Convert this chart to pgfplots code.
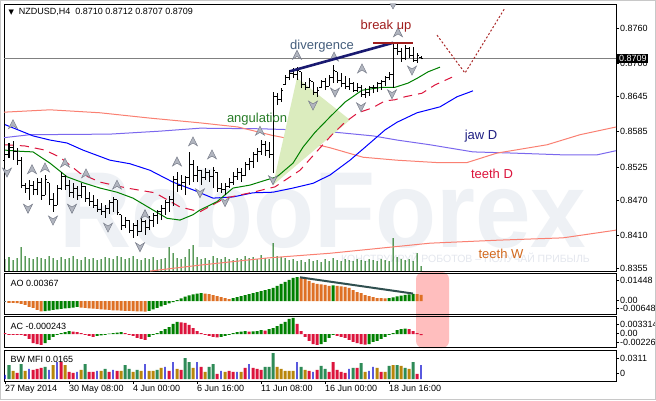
\documentclass[border=0pt]{standalone}
\usepackage{graphicx}
\usepackage{pgfplots}
\pgfplotsset{compat=1.18}
\usepackage{pgfplotstable}
\usepackage{fontspec}
\setmainfont{Liberation Sans}
\newfontfamily\symfont{DejaVu Sans}

\definecolor{aogreen}{RGB}{0,128,0}
\definecolor{aoorange}{RGB}{222,112,36}
\definecolor{aogrey}{RGB}{80,100,100}
\definecolor{acred}{RGB}{220,20,60}
\definecolor{mfigreen}{RGB}{46,139,87}
\definecolor{mfigold}{RGB}{184,134,11}
\definecolor{mfiblue}{RGB}{0,0,205}
\definecolor{volgreen}{RGB}{0,100,0}
\definecolor{lipsgreen}{RGB}{0,128,0}
\definecolor{teethred}{RGB}{220,20,60}
\definecolor{jawblue}{RGB}{0,0,255}
\definecolor{jawD}{RGB}{123,104,238}
\definecolor{salmon}{RGB}{250,128,114}
\definecolor{angfill}{RGB}{219,236,190}
\definecolor{divnavy}{RGB}{25,25,112}
\definecolor{breakred}{RGB}{160,30,30}
\definecolor{fcred}{RGB}{170,40,40}
\definecolor{divtext}{RGB}{70,95,125}
\definecolor{angtext}{RGB}{40,125,40}
\definecolor{jawtext}{RGB}{30,30,130}
\definecolor{teethWtext}{RGB}{210,105,30}
\definecolor{fracfill}{RGB}{178,182,192}
\definecolor{fracdraw}{RGB}{120,125,138}
\definecolor{pinkhl}{RGB}{255,190,190}
\definecolor{wmark}{RGB}{238,241,245}
\definecolor{wmark2}{RGB}{228,231,238}
\definecolor{aoline}{RGB}{47,79,79}
\definecolor{bidgray}{RGB}{128,128,128}
\definecolor{outer}{RGB}{200,200,200}

\pgfdeclareplotmark{ohlcopen}{\pgfpathmoveto{\pgfqpoint{-1.6pt}{0pt}}\pgfpathlineto{\pgfqpoint{0pt}{0pt}}\pgfusepathqstroke}
\pgfdeclareplotmark{ohlcclose}{\pgfpathmoveto{\pgfqpoint{0pt}{0pt}}\pgfpathlineto{\pgfqpoint{1.6pt}{0pt}}\pgfusepathqstroke}
\pgfdeclareplotmark{fup}{\pgfpathmoveto{\pgfqpoint{0pt}{5pt}}\pgfpathlineto{\pgfqpoint{4.5pt}{-4pt}}\pgfpathlineto{\pgfqpoint{0pt}{-1.2pt}}\pgfpathlineto{\pgfqpoint{-4.5pt}{-4pt}}\pgfpathclose\pgfusepathqfillstroke}
\pgfdeclareplotmark{fdown}{\pgfpathmoveto{\pgfqpoint{0pt}{-5pt}}\pgfpathlineto{\pgfqpoint{4.5pt}{4pt}}\pgfpathlineto{\pgfqpoint{0pt}{1.2pt}}\pgfpathlineto{\pgfqpoint{-4.5pt}{4pt}}\pgfpathclose\pgfusepathqfillstroke}

\pgfplotstableread{
i o h l c
0 0.8537 0.8554 0.8529 0.8546
1 0.8546 0.8566 0.8541 0.8558
2 0.8558 0.8569 0.8537 0.8551
3 0.8551 0.8558 0.8529 0.8537
4 0.8537 0.8542 0.8490 0.8495
5 0.8495 0.8499 0.8482 0.8490
6 0.8490 0.8504 0.8470 0.8495
7 0.8495 0.8502 0.8478 0.8487
8 0.8487 0.8507 0.8478 0.8499
9 0.8499 0.8507 0.8470 0.8478
10 0.8478 0.8512 0.8478 0.8504
11 0.8499 0.8499 0.8461 0.8470
12 0.8470 0.8482 0.8450 0.8461
13 0.8461 0.8495 0.8461 0.8490
14 0.8490 0.8517 0.8487 0.8510
15 0.8510 0.8512 0.8487 0.8495
16 0.8495 0.8504 0.8475 0.8483
17 0.8483 0.8499 0.8473 0.8490
18 0.8490 0.8493 0.8470 0.8478
19 0.8478 0.8499 0.8473 0.8493
20 0.8493 0.8493 0.8467 0.8473
21 0.8473 0.8483 0.8460 0.8467
22 0.8467 0.8478 0.8456 0.8461
23 0.8461 0.8472 0.8450 0.8453
24 0.8453 0.8465 0.8445 0.8450
25 0.8450 0.8461 0.8440 0.8456
26 0.8456 0.8470 0.8446 0.8465
27 0.8465 0.8475 0.8450 0.8470
28 0.8470 0.8470 0.8445 0.8448
29 0.8445 0.8445 0.8419 0.8426
30 0.8426 0.8441 0.8423 0.8436
31 0.8436 0.8436 0.8414 0.8419
32 0.8419 0.8431 0.8406 0.8426
33 0.8426 0.8436 0.8409 0.8416
34 0.8416 0.8440 0.8416 0.8433
35 0.8433 0.8436 0.8411 0.8423
36 0.8423 0.8443 0.8419 0.8436
37 0.8436 0.8448 0.8424 0.8443
38 0.8443 0.8453 0.8429 0.8450
39 0.8450 0.8461 0.8436 0.8456
40 0.8456 0.8470 0.8445 0.8465
41 0.8465 0.8477 0.8450 0.8470
42 0.8470 0.8510 0.8460 0.8504
43 0.8504 0.8517 0.8483 0.8495
44 0.8495 0.8512 0.8487 0.8500
45 0.8500 0.8510 0.8478 0.8507
46 0.8507 0.8551 0.8495 0.8529
47 0.8529 0.8537 0.8500 0.8512
48 0.8512 0.8527 0.8500 0.8520
49 0.8520 0.8520 0.8495 0.8507
50 0.8507 0.8524 0.8504 0.8517
51 0.8517 0.8520 0.8500 0.8510
52 0.8510 0.8526 0.8490 0.8520
53 0.8517 0.8517 0.8483 0.8490
54 0.8490 0.8499 0.8482 0.8487
55 0.8487 0.8499 0.8478 0.8493
56 0.8493 0.8507 0.8490 0.8500
57 0.8500 0.8517 0.8495 0.8510
58 0.8510 0.8524 0.8504 0.8517
59 0.8517 0.8524 0.8500 0.8512
60 0.8512 0.8534 0.8510 0.8529
61 0.8529 0.8541 0.8520 0.8534
62 0.8534 0.8551 0.8524 0.8546
63 0.8546 0.8558 0.8534 0.8551
64 0.8551 0.8571 0.8546 0.8563
65 0.8563 0.8569 0.8544 0.8554
66 0.8554 0.8568 0.8541 0.8546
67 0.8546 0.8652 0.8515 0.8644
68 0.8644 0.8650 0.8630 0.8639
69 0.8639 0.8659 0.8635 0.8655
70 0.8664 0.8681 0.8664 0.8676
71 0.8676 0.8689 0.8672 0.8684
72 0.8684 0.8693 0.8676 0.8681
73 0.8681 0.8694 0.8672 0.8689
74 0.8686 0.8686 0.8659 0.8664
75 0.8664 0.8669 0.8655 0.8659
76 0.8659 0.8676 0.8659 0.8672
77 0.8669 0.8669 0.8647 0.8652
78 0.8652 0.8660 0.8644 0.8655
79 0.8659 0.8672 0.8659 0.8669
80 0.8669 0.8676 0.8655 0.8662
81 0.8662 0.8681 0.8662 0.8677
82 0.8677 0.8698 0.8667 0.8689
83 0.8686 0.8686 0.8667 0.8672
84 0.8672 0.8684 0.8660 0.8666
85 0.8666 0.8679 0.8657 0.8662
86 0.8662 0.8676 0.8655 0.8666
87 0.8666 0.8669 0.8652 0.8655
88 0.8655 0.8667 0.8652 0.8660
89 0.8660 0.8664 0.8644 0.8647
90 0.8647 0.8659 0.8642 0.8652
91 0.8652 0.8662 0.8645 0.8659
92 0.8659 0.8664 0.8650 0.8660
93 0.8660 0.8669 0.8652 0.8666
94 0.8666 0.8672 0.8655 0.8669
95 0.8669 0.8679 0.8662 0.8676
96 0.8676 0.8686 0.8672 0.8681
97 0.8681 0.8735 0.8659 0.8726
98 0.8726 0.8735 0.8714 0.8720
99 0.8720 0.8726 0.8703 0.8709
100 0.8709 0.8731 0.8706 0.8726
101 0.8726 0.8728 0.8709 0.8714
102 0.8714 0.8728 0.8703 0.8706
103 0.8706 0.8718 0.8701 0.8713
104 0.8710 0.8712 0.8707 0.8709
}\ohlc

\pgfplotstableread{
i v
0 2400
1 2800
2 2200
3 2600
4 4800
5 3000
6 2600
7 2400
8 2800
9 2600
10 2400
11 3000
12 2600
13 2200
14 2800
15 2400
16 2600
17 3000
18 2400
19 2200
20 2800
21 2400
22 2600
23 2200
24 2400
25 2800
26 2600
27 2400
28 3000
29 2800
30 2400
31 2600
32 3000
33 2400
34 2200
35 2600
36 2400
37 2800
38 2200
39 2400
40 2600
41 4800
42 3600
43 2600
44 2400
45 2800
46 4400
47 5200
48 2800
49 2400
50 2600
51 2200
52 3000
53 2600
54 2400
55 2800
56 2400
57 2200
58 2600
59 2400
60 3000
61 2600
62 2800
63 2400
64 3200
65 2600
66 2400
67 5600
68 3000
69 2800
70 2600
71 2200
72 2400
73 2000
74 2200
75 1800
76 2400
77 2000
78 2200
79 1800
80 2400
81 2000
82 2600
83 2200
84 2000
85 2400
86 2200
87 2000
88 2400
89 2200
90 2000
91 2400
92 2200
93 2000
94 2400
95 2200
96 2000
97 6600
98 2800
99 2400
100 2200
101 2400
102 2000
103 3600
104 1000
}\vol

\pgfplotsset{
  panel/.style={
    scale only axis, width=612pt, xmin=-0.25, xmax=152.75,
    axis line style={black, line width=0.8pt},
    ytick pos=right, tick align=outside, major tick length=3pt,
    tick style={black, line width=0.6pt},
    xtick=\empty, scaled y ticks=false,
    yticklabel style={font=\fontsize{9}{10}\selectfont, inner sep=1pt},
    clip mode=individual,
  },
}

\begin{document}
\begin{tikzpicture}
\useasboundingbox (0pt,0pt) rectangle (656pt,-400pt);
\fill[white] (0pt,0pt) rectangle (656pt,-400pt);
\fill[pinkhl, rounded corners=7pt] (416pt,-272pt) rectangle (449pt,-348pt);
\node[anchor=base west, inner sep=0pt, text=wmark] at (59pt,-247pt) {\scalebox{0.925}[1]{\fontsize{108}{108}\selectfont\bfseries RoboForex}};
\node[anchor=base east, inner sep=0pt, text=wmark2, font=\fontsize{10.5}{12}\selectfont] at (590pt,-262pt) {КОНСТРУИРУЙ РОБОТОВ – ПОЛУЧАЙ ПРИБЫЛЬ};

% volumes overlay
\begin{axis}[panel, at={(4pt,-4pt)}, anchor=north west, height=267pt, ymin=0, ymax=53400, hide axis]
\addplot[ybar, bar width=1pt, bar shift=0pt, fill=volgreen, draw=none] table[x=i,y=v] {\vol};
\end{axis}

% main price panel
\begin{axis}[panel, at={(4pt,-4pt)}, anchor=north west, height=267pt,
  ymin=0.835006, ymax=0.880049,
  ytick={0.8355,0.8410,0.8470,0.8525,0.8585,0.8645,0.8700,0.8760},
  yticklabels={0.8355,0.8410,0.8470,0.8525,0.8585,0.8645,0.8700,0.8760}]
\addplot[salmon, line width=1pt] coordinates {(36.25,0.8350)(48.75,0.8360)(65.5,0.8372)(81.25,0.8380)(106.25,0.8397)(123,0.8402)(139.5,0.8406)(152.75,0.8419)};
\addplot[jawD, line width=1pt] coordinates {(-0.25,0.8575)(6.25,0.8580)(26.25,0.8581)(38.75,0.8586)(48.75,0.8591)(63.75,0.8590)(73.75,0.8588)(81.25,0.8585)(92,0.8578)(98,0.8571)(106.25,0.8563)(117,0.8551)(127,0.8549)(139.5,0.8546)(148,0.8546)(152.75,0.8553)};
\addplot[salmon, line width=1pt] coordinates {(-0.25,0.8618)(11.25,0.8622)(23.75,0.8617)(36.25,0.8608)(48.75,0.8600)(58.25,0.8593)(66.75,0.8579)(75,0.8568)(81.25,0.8558)(89.5,0.8542)(98,0.8537)(108,0.8533)(115.5,0.8533)(123,0.8549)(135.5,0.8563)(143.75,0.8580)(152.75,0.8593)};
\addplot[fill=angfill, draw=none] coordinates {(67,0.8495)(73,0.8676)(86.25,0.8605)};
\addplot[jawblue, line width=1pt] coordinates {(0,0.8597)(7,0.8578)(11.25,0.8571)(15.5,0.8566)(19.5,0.8554)(26.25,0.8537)(31.25,0.8531)(36.25,0.8520)(42,0.8500)(47,0.8487)(52,0.8473)(57,0.8475)(62,0.8482)(67,0.8483)(72,0.8490)(77,0.8498)(81.25,0.8512)(86.25,0.8537)(91.25,0.8566)(95,0.8588)(98,0.8601)(103,0.8617)(108.75,0.8627)(113,0.8644)(117,0.8654)};
\addplot[teethred, line width=1pt, dash pattern=on 9pt off 6pt] coordinates {(0,0.8563)(5,0.8561)(10,0.8554)(13.75,0.8542)(18.75,0.8515)(23.75,0.8500)(30.5,0.8490)(37.5,0.8482)(43.75,0.8458)(48.75,0.8450)(55,0.8473)(62,0.8483)(67.5,0.8492)(73.75,0.8520)(78.25,0.8554)(81.75,0.8580)(85,0.8601)(88.25,0.8617)(91.75,0.8625)(95,0.8637)(97.5,0.8639)(100,0.8644)(104.25,0.8650)(107.5,0.8664)(111.75,0.8677)};
\addplot[lipsgreen, line width=1pt] coordinates {(0,0.8554)(3.75,0.8552)(7,0.8551)(11.25,0.8532)(15.5,0.8509)(19.5,0.8499)(23.75,0.8490)(28,0.8483)(32,0.8473)(36.25,0.8456)(40.5,0.8439)(43.75,0.8436)(47,0.8445)(48.75,0.8453)(53,0.8467)(57,0.8490)(61.25,0.8495)(65.5,0.8504)(68,0.8509)(72,0.8532)(74.5,0.8559)(77.5,0.8584)(81.25,0.8610)(85,0.8635)(89.25,0.8655)(94.25,0.8660)(97.5,0.8660)(100.75,0.8667)(103.25,0.8676)(105.75,0.8686)(108.75,0.8694)};
\addplot[bidgray, line width=0.6pt] coordinates {(-0.25,0.8709)(152.75,0.8709)};
% OHLC bars: high-low segments, open and close ticks
\addplot[black, line width=1pt, mark=none, -, quiver={u=0, v=\thisrow{h}-\thisrow{l}}] table[x=i, y=l] {\ohlc};
\addplot[only marks, mark=ohlcopen, mark options={black, line width=1pt}] table[x=i, y=o] {\ohlc};
\addplot[only marks, mark=ohlcclose, mark options={black, line width=1pt}] table[x=i, y=c] {\ohlc};
\addplot[only marks, mark=fup, mark options={fill=fracfill, draw=fracdraw, line width=0.5pt}] coordinates {(2,0.8597)(6.75,0.8521)(10,0.8524)(15,0.8532)(20.25,0.8514)(28,0.8495)(35,0.8445)(43,0.8534)(47,0.8568)(51.75,0.8546)(63.75,0.8586)(73,0.8714)(82.25,0.8711)(89.25,0.8691)(98.25,0.8752)};
\addplot[only marks, mark=fdown, mark options={fill=fracfill, draw=fracdraw, line width=0.5pt}] coordinates {(0.5,0.8517)(5.75,0.8456)(12,0.8436)(16.75,0.8456)(25.75,0.8424)(33.75,0.8391)(48.75,0.8482)(55,0.8467)(67,0.8504)(77,0.8630)(82.5,0.8652)(89,0.8627)(96.75,0.8649)(101.75,0.8689)};
\addplot[only marks, mark=triangle*, mark size=3.5pt, mark options={rotate=180, fill=fracfill, draw=fracdraw}] coordinates {(97,0.8798)};
\addplot[divnavy, line width=2.6pt] coordinates {(71.25,0.8687)(97,0.8735)};
\addplot[breakred, line width=2pt] coordinates {(92,0.8735)(102,0.8735)};
\addplot[fcred, line width=1pt, dash pattern=on 2pt off 2pt] coordinates {(108,0.8748)(115,0.8684)(125,0.8794)};
\node[text=divtext, font=\fontsize{13}{14}\selectfont] at (axis cs:79.25,0.8730) {divergence};
\node[text=breakred, font=\fontsize{13}{14}\selectfont] at (axis cs:95.25,0.8763) {break up};
\node[text=angtext, font=\fontsize{13}{14}\selectfont] at (axis cs:63,0.8607) {angulation};
\node[text=jawtext, font=\fontsize{13}{14}\selectfont] at (axis cs:119,0.8578) {jaw D};
\node[text=teethred, font=\fontsize{13}{14}\selectfont] at (axis cs:121.75,0.8514) {teeth D};
\node[text=teethWtext, font=\fontsize{13}{14}\selectfont] at (axis cs:124,0.8379) {teeth W};
\node[anchor=west, fill=black, text=white, inner sep=1.5pt, font=\fontsize{9}{10}\selectfont] at (axis cs:152.75,0.8709) {\,0.8709};
\end{axis}

% AO panel
\begin{axis}[panel, at={(4pt,-273pt)}, anchor=north west, height=41pt,
  ymin=-0.00785, ymax=0.01691,
  ytick={-0.00453,0.0003,0.01268}, yticklabels={-0.00648,0.00,0.01448}]
\addplot[ybar, bar width=3pt, bar shift=0pt, fill=aogrey, draw=none] coordinates {(0,-0.0006)};
\addplot[ybar, bar width=3pt, bar shift=0pt, fill=aoorange, draw=none] coordinates {
(1,-0.0012)(2,-0.0012)(3,-0.0013)(4,-0.0018)(5,-0.0024)(6,-0.0036)(7,-0.0042)(8,-0.0054)(9,-0.0062)
(19,-0.0040)(20,-0.0042)(21,-0.0044)(22,-0.0046)(23,-0.0048)(24,-0.0050)(25,-0.0052)(26,-0.0054)(27,-0.0056)(28,-0.0057)(29,-0.0058)(30,-0.0059)(31,-0.0060)(32,-0.0061)(33,-0.0062)(34,-0.0063)(35,-0.00648)
(50,0.0044)(51,0.0042)(52,0.0036)(53,0.0030)(54,0.0024)(55,0.0018)(56,0.0012)
(74,0.0139)(75,0.0133)(76,0.0121)(77,0.0109)(78,0.0103)(79,0.0100)(80,0.0097)(81,0.0091)
(83,0.0091)(84,0.0088)(85,0.0085)(86,0.0079)(87,0.0066)(88,0.0054)(89,0.0048)(90,0.0036)(91,0.0030)(92,0.0024)(93,0.0018)(94,0.0017)(95,0.0016)
(103,0.0042)(104,0.00367)};
\addplot[ybar, bar width=3pt, bar shift=0pt, fill=aogreen, draw=none] coordinates {
(10,-0.0061)(11,-0.0058)(12,-0.0054)(13,-0.0050)(14,-0.0048)(15,-0.0045)(16,-0.0043)(17,-0.0040)(18,-0.0036)
(36,-0.0060)(37,-0.0050)(38,-0.0042)(39,-0.0032)(40,-0.0024)(41,-0.0014)(42,-0.0006)(43,0.0006)(44,0.0016)(45,0.0026)(46,0.0034)(47,0.0040)(48,0.0044)(49,0.0047)
(57,0.0018)(58,0.0024)(59,0.0030)(60,0.0036)(61,0.0042)(62,0.0048)(63,0.0054)(64,0.0060)(65,0.0066)(66,0.0072)(67,0.0079)(68,0.0091)(69,0.0103)(70,0.0115)(71,0.0127)(72,0.0139)(73,0.01448)
(82,0.0094)
(96,0.0017)(97,0.0022)(98,0.0028)(99,0.0033)(100,0.0037)(101,0.0040)(102,0.0043)};
\addplot[aoline, line width=2pt] coordinates {(73.75,0.0143)(102,0.0045)};
\end{axis}

% AC panel
\begin{axis}[panel, at={(4pt,-316pt)}, anchor=north west, height=31pt,
  ymin=-0.00268, ymax=0.00371,
  ytick={-0.00165,0.0002,0.00206}, yticklabels={-0.00226,0.00,0.003314}]
\addplot[ybar, bar width=3pt, bar shift=0pt, fill=acred, draw=none] coordinates {
(0,0.0002)(1,-0.0002)(2,-0.0002)(3,-0.0002)(4,-0.0002)(5,-0.0004)(6,-0.0010)(7,-0.0019)(8,-0.0021)(9,-0.00226)
(17,0.0005)(18,0.0004)(19,0.0002)(20,-0.0002)(21,-0.0004)(22,-0.0006)
(30,0.0002)(31,-0.0002)(32,-0.0004)(33,-0.0008)(34,-0.0010)(35,-0.0012)
(44,0.0024)(45,0.0023)(46,0.0019)(47,0.0012)(48,0.0006)(49,0.0002)(50,-0.0002)(51,-0.0004)(52,-0.0006)(53,-0.0007)
(61,0.0005)(65,0.0007)
(73,0.0021)(74,0.0006)(75,-0.0006)(76,-0.0014)(77,-0.0021)(78,-0.00226)
(83,-0.0004)(84,-0.0006)(85,-0.0008)(86,-0.0012)(87,-0.0016)(88,-0.0019)(89,-0.0021)(90,-0.0022)
(101,0.0010)(102,0.0006)(103,0.0002)(104,-0.000243)};
\addplot[ybar, bar width=3pt, bar shift=0pt, fill=aogreen, draw=none] coordinates {
(10,-0.0019)(11,-0.0012)(12,-0.0006)(13,-0.0002)(14,0.0002)(15,0.0004)(16,0.0006)
(23,-0.0004)(24,-0.0003)(25,-0.0002)(26,0.0001)(27,0.0002)(28,0.0003)(29,0.0004)
(36,-0.0006)(37,-0.0002)(38,0.0002)(39,0.0006)(40,0.0010)(41,0.0014)(42,0.0021)(43,0.0025)
(54,-0.0006)(55,-0.0004)(56,-0.0002)(57,0.0002)(58,0.0004)(59,0.0005)(60,0.0006)
(62,0.00056)(63,0.0006)(64,0.0008)
(66,0.0010)(67,0.0012)(68,0.0016)(69,0.0021)(70,0.0025)(71,0.0031)(72,0.003314)
(79,-0.0021)(80,-0.0016)(81,-0.0008)(82,-0.0002)
(91,-0.0021)(92,-0.0016)(93,-0.0014)(94,-0.0010)(95,-0.0006)(96,-0.0002)(97,0.0002)(98,0.0008)(99,0.0010)(100,0.0011)};
\end{axis}

% BW MFI panel
\begin{axis}[panel, at={(4pt,-350pt)}, anchor=north west, height=31pt,
  ymin=-0.0024, ymax=0.0347,
  ytick={0.0072,0.0251}, yticklabels={0,0.0311},
  xtick={0,16,32,48,64,80,96},
  xticklabels={27 May 2014,30 May 08:00,4 Jun 00:00,6 Jun 16:00,11 Jun 08:00,16 Jun 00:00,18 Jun 16:00},
  xtick pos=left,
  xticklabel style={anchor=north west, font=\fontsize{9}{10}\selectfont, inner sep=1pt, xshift=-1pt}]
\addplot[ybar, bar width=3pt, bar shift=0pt, fill=mfigreen, draw=none] coordinates {
(1,0.0167)(4,0.0179)(10,0.0144)(20,0.0179)(25,0.0120)(30,0.0167)(31,0.0120)(33,0.0108)(38,0.0108)(45,0.0251)(46,0.0203)(51,0.0144)(52,0.0179)(65,0.0144)(66,0.0144)(67,0.0311)(74,0.0144)(79,0.0156)(80,0.0120)(87,0.0132)(89,0.0191)(96,0.0156)(98,0.0167)(100,0.0132)(102,0.0203)};
\addplot[ybar, bar width=3pt, bar shift=0pt, fill=mfigold, draw=none] coordinates {
(2,0.0096)(5,0.0096)(12,0.0167)(15,0.0167)(19,0.0108)(24,0.0096)(29,0.0096)(32,0.0084)(34,0.0096)(36,0.0096)(37,0.0096)(39,0.0132)(43,0.0120)(47,0.0132)(50,0.0084)(55,0.0084)(59,0.0084)(68,0.0144)(69,0.0120)(70,0.0096)(71,0.0096)(72,0.0096)(75,0.0108)(90,0.0084)(93,0.0132)(95,0.0084)(97,0.0167)(99,0.0156)(101,0.0120)};
\addplot[ybar, bar width=3pt, bar shift=0pt, fill=acred, draw=none] coordinates {
(3,0.0072)(7,0.0108)(8,0.0120)(9,0.0132)(14,0.0203)(16,0.0084)(17,0.0072)(21,0.0084)(22,0.0084)(26,0.0084)(28,0.0096)(41,0.0096)(44,0.0108)(49,0.0144)(53,0.0060)(56,0.0096)(57,0.0084)(60,0.0132)(62,0.0132)(63,0.0120)(64,0.0108)(76,0.0096)(78,0.0108)(81,0.0084)(82,0.0203)(83,0.0108)(84,0.0084)(85,0.0072)(88,0.0132)(94,0.0084)(103,0.0060)};
\addplot[ybar, bar width=1.3pt, bar shift=0pt, fill=mfiblue, draw=none] coordinates {
(0,0.0048)(6,0.0120)(11,0.0108)(13,0.0203)(18,0.0084)(23,0.0096)(27,0.0108)(35,0.0179)(40,0.0144)(42,0.0203)(48,0.0203)(54,0.0096)(58,0.0084)(61,0.0179)(73,0.0203)(77,0.0084)(86,0.0120)(91,0.0096)(92,0.0144)(104,0.0165)};
\end{axis}

\node[anchor=west, font=\fontsize{9}{10}\selectfont] at (5pt,-12pt) {{\symfont\fontsize{7}{8}\selectfont ▼}\ \ NZDUSD,H4\ \ 0.8710 0.8712 0.8707 0.8709};
\node[anchor=west, font=\fontsize{9}{10}\selectfont] at (7pt,-283pt) {AO 0.00367};
\node[anchor=west, font=\fontsize{9}{10}\selectfont] at (7pt,-326pt) {AC -0.000243};
\node[anchor=west, font=\fontsize{9}{10}\selectfont] at (7pt,-359pt) {BW MFI 0.0165};
\draw[outer, line width=1pt] (0.5pt,-0.5pt) rectangle (655.5pt,-399.5pt);
\end{tikzpicture}
\end{document}
